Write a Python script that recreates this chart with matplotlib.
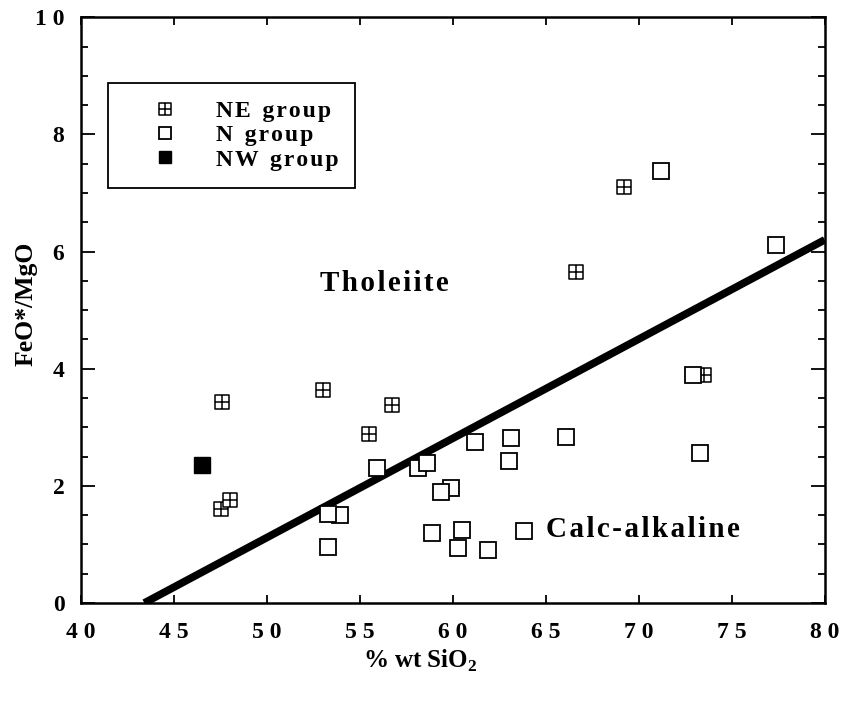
import matplotlib
matplotlib.use('Agg')
import matplotlib.pyplot as plt
from matplotlib.path import Path
from matplotlib.ticker import MultipleLocator

# NE group (crossed squares)
ne_sio2 = [47.6, 47.5, 48.0, 53.0, 55.5, 56.7, 66.6, 69.2, 73.5]
ne_ratio = [3.43, 1.60, 1.76, 3.63, 2.89, 3.38, 5.65, 7.10, 3.89]

# N group (open squares)
n_sio2 = [71.2, 77.4, 72.9, 73.3, 66.1, 63.1, 63.0, 61.2, 59.9, 59.35, 58.9,
          60.5, 60.3, 61.9, 63.8, 58.1, 58.6, 55.9, 53.9, 53.3, 53.3]
n_ratio = [7.37, 6.12, 3.89, 2.56, 2.84, 2.82, 2.42, 2.75, 1.97, 1.89, 1.19,
           1.25, 0.94, 0.90, 1.23, 2.30, 2.39, 2.30, 1.50, 1.52, 0.96]

# NW group (filled square)
nw_sio2 = [46.5]
nw_ratio = [2.35]

# tholeiite / calc-alkaline divide
div_sio2 = [43.4, 80.0]
div_ratio = [0.0, 6.2]

x_ticks = [40, 45, 50, 55, 60, 65, 70, 75, 80]
x_labels = ['4 0', '4 5', '5 0', '5 5', '6 0', '6 5', '7 0', '7 5', '8 0']
y_ticks = [0, 2, 4, 6, 8, 10]
y_labels = ['0', '2', '4', '6', '8', '1 0']

plt.rcParams['font.family'] = ['Liberation Serif', 'DejaVu Serif']
plt.rcParams['mathtext.fontset'] = 'custom'
plt.rcParams['mathtext.rm'] = 'Liberation Serif:bold'


def spaced(s):
    # the scanned labels are letter-spaced, hair space between letters
    return '\u200a'.join(s)


# square with a cross inside
crossed = Path([(-1, -1), (1, -1), (1, 1), (-1, 1), (-1, -1),
                (0, -1), (0, 1), (-1, 0), (1, 0)],
               [Path.MOVETO, Path.LINETO, Path.LINETO, Path.LINETO, Path.CLOSEPOLY,
                Path.MOVETO, Path.LINETO, Path.MOVETO, Path.LINETO])

fig = plt.figure(figsize=(8.45, 7.04), dpi=100)
ax = fig.add_axes([0.096, 0.1435, 0.880, 0.832])

ax.plot(div_sio2, div_ratio, color='black', lw=5.5, solid_capstyle='butt', zorder=2)

ax.plot(ne_sio2, ne_ratio, ls='none', marker=crossed, ms=10, mfc='white',
        mec='black', mew=1.1, label=spaced('NE') + '  ' + spaced('group'), zorder=3)
ax.plot(n_sio2, n_ratio, ls='none', marker='s', ms=11, mfc='white',
        mec='black', mew=1.3, label='N  ' + spaced('group'), zorder=3)
ax.plot(nw_sio2, nw_ratio, ls='none', marker='s', ms=11, mfc='black',
        mec='black', label=spaced('NW') + '  ' + spaced('group'), zorder=3)

ax.text(56.3, 5.46, spaced('Tholeiite'), fontsize=21, fontweight='bold',
        ha='center', va='center')
ax.text(65.0, 1.25, spaced('Calc-alkaline'), fontsize=21, fontweight='bold',
        ha='left', va='center')

ax.set_xlim(40, 80)
ax.set_ylim(0, 10)
ax.set_xticks(x_ticks)
ax.set_xticklabels(x_labels, fontsize=17, fontweight='bold')
ax.set_yticks(y_ticks)
ax.set_yticklabels(y_labels, fontsize=17, fontweight='bold')
ax.yaxis.set_minor_locator(MultipleLocator(0.5))
ax.tick_params(axis='both', which='both', direction='in', top=True, right=True,
               width=1.3)
ax.tick_params(axis='y', which='major', length=10, pad=12)
ax.tick_params(axis='y', which='minor', length=5)
ax.tick_params(axis='x', which='major', length=6, pad=14)
for s in ax.spines.values():
    s.set_linewidth(1.8)

ax.set_xlabel('% wt SiO$_2$', fontsize=18, fontweight='bold')
ax.xaxis.set_label_coords(0.456, -0.077)
ax.set_ylabel('FeO*/MgO', fontsize=18.5, fontweight='bold')
ax.yaxis.set_label_coords(-0.059, 0.51)

leg = ax.legend(loc='upper left', bbox_to_anchor=(0.036, 0.887), borderaxespad=0,
                prop={'size': 17, 'weight': 'bold'}, handlelength=3.4,
                handletextpad=0.45, labelspacing=0.12, borderpad=0.72,
                markerscale=0.8, fancybox=False, edgecolor='black', framealpha=1)
leg.get_frame().set_linewidth(1.3)

plt.savefig('out.png', dpi=100)
